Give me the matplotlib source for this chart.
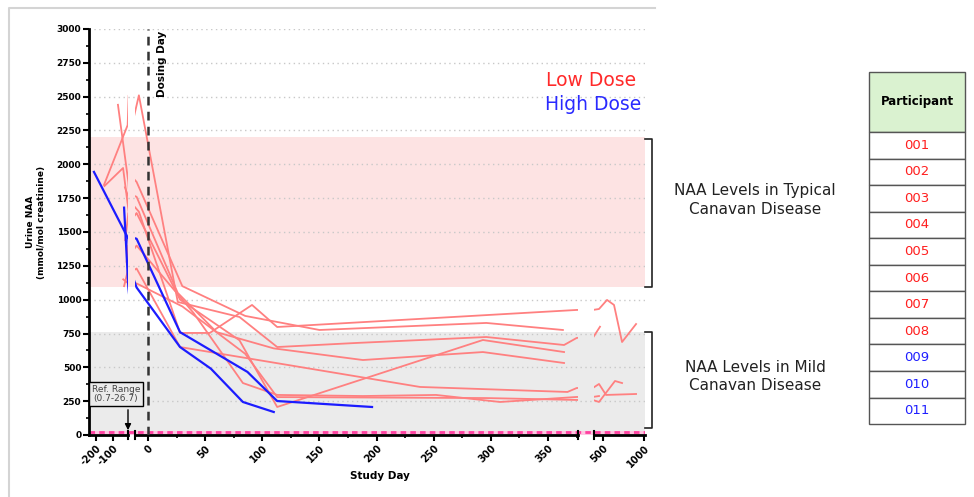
import matplotlib.pyplot as plt
import matplotlib.patches as patches
from matplotlib.lines import Line2D
from matplotlib.ticker import FixedLocator, MultipleLocator

plt.rcParams['axes.unicode_minus'] = False

W, H = 974, 497

# Datos (dia de estudio, NAA en orina)
p001_days = [-150, -41, -8, 28, 54, 91, 113, 375, 451, 549, 634, 732, 903]
p001_naa = [1840, 1973, 1650, 754, 754, 961, 798, 924, 931, 998, 961, 687, 820]
p002_days = [-153, -14, -8, 26, 80, 113, 182, 296, 364, 375, 463]
p002_naa = [1848, 2290, 2510, 983, 872, 650, 680, 724, 665, 717, 800]
p003_days = [-71, -10, 30, 85, 150, 296, 363]
p003_naa = [2440, 1870, 1100, 880, 776, 828, 776]
p004_days = [-30, -10, 26, 60, 110, 188, 293, 364]
p004_naa = [1830, 1760, 1050, 760, 640, 554, 613, 532]
p005_days = [-28, -10, 28, 80, 113, 293, 364]
p005_naa = [1440, 1640, 1000, 700, 207, 702, 613]
p006_days = [-35, -10, 28, 238, 367, 375, 451, 537, 903]
p006_naa = [1100, 1230, 650, 355, 318, 347, 377, 296, 303]
p007_days = [-20, -10, 40, 83, 113, 188, 252, 308, 375, 451]
p007_naa = [1280, 1400, 900, 384, 296, 288, 296, 244, 281, 288]
p008_days = [-40, -10, 30, 85, 113, 296, 375, 451, 646, 732]
p008_naa = [1150, 1120, 950, 600, 280, 273, 259, 244, 399, 384]
p009_days = [-212, -10, 28, 87, 113, 196]
p009_naa = [1944, 1450, 760, 466, 251, 207]
p010_days = [-35, -10, 28, 55, 83, 110]
p010_naa = [1680, 1090, 650, 490, 244, 170]

low_dose = [(p001_days, p001_naa), (p002_days, p002_naa), (p003_days, p003_naa),
            (p004_days, p004_naa), (p005_days, p005_naa), (p006_days, p006_naa),
            (p007_days, p007_naa), (p008_days, p008_naa)]
high_dose = [(p009_days, p009_naa), (p010_days, p010_naa)]

participants = ['001', '002', '003', '004', '005', '006', '007', '008', '009', '010', '011']
participant_dose = ['low'] * 8 + ['high'] * 3

y_ticks = list(range(0, 3001, 250))
seg1_ticks = [-200, -100]
seg2_ticks = [0, 50, 100, 150, 200, 250, 300, 350]
seg3_ticks = [500, 1000]

RED = '#ff8080'
BLUE = '#1c1cff'


def fx(px):
    return px / W


def fy(py):
    return 1 - py / H


fig = plt.figure(figsize=(W / 100, H / 100), dpi=100)

# Fondo: bandas y rejilla sobre todo el ancho del eje
bg = fig.add_axes([fx(89), fy(435), (645 - 89) / W, 406 / H])
bg.set_xlim(0, 1)
bg.set_ylim(0, 3000)
bg.axis('off')
bg.set_zorder(0)
bg.axhspan(1090, 2200, color='#fde3e3', lw=0)
bg.axhspan(0, 760, color='#ebebeb', lw=0)
for v in y_ticks[1:]:
    bg.axhline(v, color='#c8c8c8', lw=1, ls=(0, (1, 2.5)))
bg.axhspan(0, 30, color='#ffc6e2', lw=0)
bg.axhline(22, color='#ff40a0', lw=2, ls=(0, (2, 1.5)))


def make_segment(left_px, right_px, xlim, major, minor=None):
    ax = fig.add_axes([fx(left_px), fy(435), (right_px - left_px) / W, 406 / H])
    ax.set_zorder(1)
    ax.set_facecolor('none')
    ax.set_xlim(*xlim)
    ax.set_ylim(0, 3000)
    for s in ['top', 'right', 'left']:
        ax.spines[s].set_visible(False)
    ax.spines['bottom'].set_linewidth(2)
    ax.xaxis.set_major_locator(FixedLocator(major))
    if minor:
        ax.xaxis.set_minor_locator(MultipleLocator(minor))
    ax.tick_params(axis='x', which='major', direction='out', length=4, width=1.5,
                   labelsize=7, pad=2)
    ax.tick_params(axis='x', which='minor', direction='out', length=2.5, width=1.2)
    ax.tick_params(axis='y', which='both', left=False, labelleft=False)
    for lab in ax.get_xticklabels():
        lab.set_rotation(45)
        lab.set_ha('right')
        lab.set_rotation_mode('anchor')
        lab.set_fontweight('bold')
    return ax


ax1 = make_segment(89, 128, (-241, -12), seg1_ticks)
ax2 = make_segment(135, 578, (-11.4, 376.2), seg2_ticks, 25)
ax3 = make_segment(594, 645, (390, 1012), seg3_ticks)

# Eje Y solo en el primer tramo
ax1.spines['left'].set_visible(True)
ax1.spines['left'].set_linewidth(2)
ax1.yaxis.set_major_locator(FixedLocator(y_ticks))
ax1.yaxis.set_minor_locator(MultipleLocator(125))
ax1.tick_params(axis='y', which='major', left=True, labelleft=True, direction='out',
                length=4, width=1.5, labelsize=6.5, pad=1.5)
ax1.tick_params(axis='y', which='minor', left=True, direction='out', length=2.5, width=1.2)
for lab in ax1.get_yticklabels():
    lab.set_fontweight('bold')

# Marcas de corte del eje
for ax, ends in [(ax1, [1]), (ax2, [0, 1]), (ax3, [0])]:
    for e in ends:
        ax.plot([e, e], [-0.011, 0.011], transform=ax.transAxes, color='black',
                lw=1.5, clip_on=False, zorder=5)

# Lineas de participantes
for ax in [ax1, ax2, ax3]:
    for days, naa in low_dose:
        ax.plot(days, naa, color=RED, lw=1.3, zorder=2)
    for days, naa in high_dose:
        ax.plot(days, naa, color=BLUE, lw=1.6, zorder=3)

# Dia de dosis
ax2.axvline(0, color='#333333', lw=1.8, ls=(0, (3.5, 2.5)), zorder=4)
ax2.text(8, 2985, 'Dosing Day', rotation=90, va='top', ha='left', fontsize=7.5,
         fontweight='bold')

# Rango de referencia
fig.text(fx(116), fy(394), 'Ref. Range\n(0.7-26.7)', ha='center', va='center',
         fontsize=6.5, color='#444444', linespacing=1.1,
         bbox=dict(boxstyle='square,pad=0.25', fc='#ebebeb', ec='black', lw=1))
fig.add_artist(patches.FancyArrowPatch((fx(128), fy(407)), (fx(128), fy(433)),
                                       transform=fig.transFigure, arrowstyle='-|>',
                                       mutation_scale=9, color='black', lw=1))

# Titulos de ejes
fig.text(fx(36), fy(222), 'Urine NAA\n(mmol/mol creatinine)', rotation=90, ha='center',
         va='center', fontsize=6.5, fontweight='bold', linespacing=1.2)
fig.text(fx(380), fy(476), 'Study Day', ha='center', va='center', fontsize=7.5,
         fontweight='bold')

# Leyenda de dosis
fig.text(fx(591), fy(80), 'Low Dose', color='#ff2a2a', fontsize=13.5, ha='center',
         va='center')
fig.text(fx(593), fy(105), 'High Dose', color='#2a2aff', fontsize=13.5, ha='center',
         va='center')

# Corchetes y anotaciones
for top, bottom in [(139, 287), (332, 428)]:
    fig.add_artist(Line2D([fx(645), fx(652), fx(652), fx(645)],
                          [fy(top), fy(top), fy(bottom), fy(bottom)],
                          color='#222222', lw=1.2))
fig.text(fx(755), fy(200), 'NAA Levels in Typical\nCanavan Disease', ha='center',
         va='center', fontsize=11, color='#222222', linespacing=1.25)
fig.text(fx(755), fy(377), 'NAA Levels in Mild\nCanavan Disease', ha='center',
         va='center', fontsize=11, color='#222222', linespacing=1.25)

# Tabla de participantes
tx0, tx1 = 869, 965
fig.add_artist(patches.Rectangle((fx(tx0), fy(132)), (tx1 - tx0) / W, 60 / H,
                                 transform=fig.transFigure, fc='#daf2d0',
                                 ec='#555555', lw=1))
fig.text(fx((tx0 + tx1) / 2), fy(102), 'Participant', ha='center', va='center',
         fontsize=8.5, fontweight='bold')
row_h = 26.55
for i, (pid, dose) in enumerate(zip(participants, participant_dose)):
    top = 132 + i * row_h
    fig.add_artist(patches.Rectangle((fx(tx0), fy(top + row_h)), (tx1 - tx0) / W,
                                     row_h / H, transform=fig.transFigure, fc='white',
                                     ec='#555555', lw=1))
    color = '#ff1f1f' if dose == 'low' else '#1f1fff'
    fig.text(fx((tx0 + tx1) / 2), fy(top + row_h / 2), pid, ha='center', va='center',
             fontsize=9.5, color=color)

# Marco gris de la imagen
fig.add_artist(Line2D([fx(9), fx(9), fx(655)], [fy(497), fy(8), fy(8)],
                      color='#d4d4d4', lw=1.5))

plt.savefig('out.png', dpi=100)
plt.close()
